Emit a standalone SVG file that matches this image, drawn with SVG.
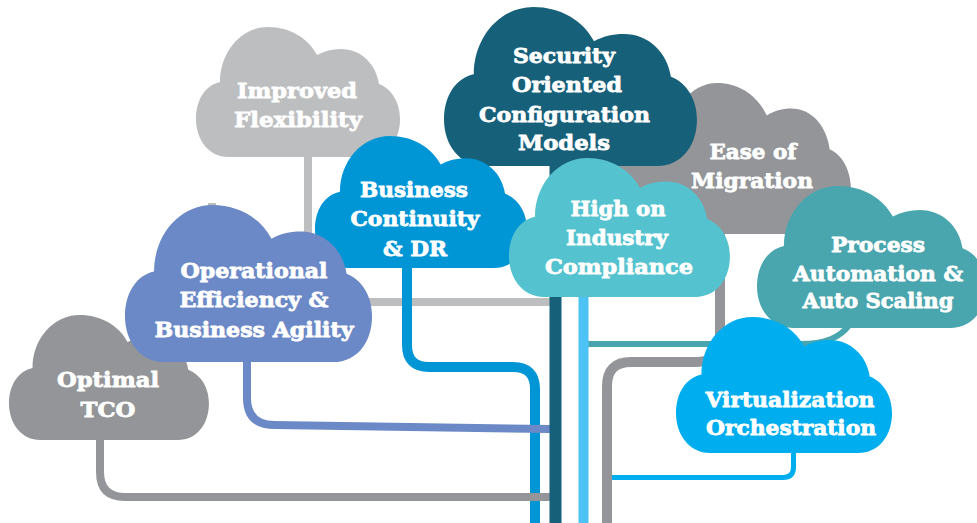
<svg xmlns="http://www.w3.org/2000/svg" width="977" height="523" viewBox="0 0 977 523">
<defs>
<path id="cloud" d="M32,130 C13,130 0,113 0,92 C0,72 10,58 24,55 C24,25 45,0 72,0 C94,0 112,11 121,28 C128,24 136,22 145,22 C165,22 180,37 183,57 C196,62 204,76 204,92 C204,113 192,130 172,130 Z"/>
<style>
.t { font-family: "DejaVu Serif", "Liberation Serif", serif; font-weight: bold; font-size: 21px; fill: #ffffff; stroke: #ffffff; stroke-width: 0.8px; stroke-linejoin: round; text-anchor: middle; }
.c { fill: none; stroke-linecap: butt; stroke-linejoin: round; }
</style>
</defs>
<rect width="977" height="523" fill="#ffffff"/>
<g id="connectors">
<path class="c" stroke="#bcbec0" stroke-width="8" d="M212,203 V240"/>
<path class="c" stroke="#bcbec0" stroke-width="8" d="M308,150 V302 H550"/>
<path class="c" stroke="#0096d6" stroke-width="10" d="M407,260 V345 Q407,367 429,367 H513 Q535,367 535,389 V523"/>
<path class="c" stroke="#6b89c6" stroke-width="8" d="M247,355 V398 Q247,425 275,425 L550,429"/>
<path class="c" stroke="#939598" stroke-width="8" d="M100,435 V472 Q100,497 125,497 H550"/>
<path class="c" stroke="#49a5ae" stroke-width="6" d="M584,344 H800 C825,344 840,338 850,324"/>
<path class="c" stroke="#00aeef" stroke-width="5" d="M607,477.5 H783 Q793.5,477.5 793.5,467 V448"/>
<path class="c" stroke="#939598" stroke-width="10" d="M720,230 V338 Q720,362 696,362 H631 Q607,362 607,386 V523"/>
<path class="c" stroke="#4cc2f5" stroke-width="10" d="M583.5,290 V523"/>
<path class="c" stroke="#17607a" stroke-width="12" d="M555.5,160 V523"/>
</g>
<g id="improved-flexibility">
<use href="#cloud" fill="#bcbec0" transform="translate(196,27)"/>
<text class="t" x="297" y="98" textLength="120" lengthAdjust="spacingAndGlyphs">Improved</text>
<text class="t" x="298" y="127" textLength="128" lengthAdjust="spacingAndGlyphs">Flexibility</text>
</g>
<g id="ease-of-migration">
<path fill="#939598" d="M676,234 C630,234 605,215 605,188 C605,160 630,145 668.4,146.9 C668.4,112 689.7,83 717.1,83 C739.4,83 757.7,95.8 766.8,115.5 C773.9,110.9 782,108.6 791.2,108.6 C811.5,108.6 826.7,126 829.7,149.2 C842.9,155 851,171.3 851,190 C851,214.3 838.9,234 818.6,234 Z"/>
<text class="t" x="753" y="159" textLength="87" lengthAdjust="spacingAndGlyphs">Ease of</text>
<text class="t" x="752" y="188" textLength="122" lengthAdjust="spacingAndGlyphs">Migration</text>
</g>
<g id="security-oriented-configuration-models">
<use href="#cloud" fill="#17607a" transform="translate(444,7) scale(1.240,1.223)"/>
<text class="t" x="564" y="63" textLength="102" lengthAdjust="spacingAndGlyphs">Security</text>
<text class="t" x="567" y="92" textLength="110" lengthAdjust="spacingAndGlyphs">Oriented</text>
<text class="t" x="564.5" y="122" textLength="171" lengthAdjust="spacingAndGlyphs">Configuration</text>
<text class="t" x="564" y="150" textLength="92" lengthAdjust="spacingAndGlyphs">Models</text>
</g>
<g id="business-continuity-dr">
<use href="#cloud" fill="#0096d6" transform="translate(315,136) scale(1.039,1.015)"/>
<text class="t" x="414" y="197" textLength="108" lengthAdjust="spacingAndGlyphs">Business</text>
<text class="t" x="415" y="226" textLength="129" lengthAdjust="spacingAndGlyphs">Continuity</text>
<text class="t" x="415" y="256" textLength="64" lengthAdjust="spacingAndGlyphs">&amp; DR</text>
</g>
<g id="optimal-tco">
<use href="#cloud" fill="#939598" transform="translate(9,315) scale(0.980,0.962)"/>
<text class="t" x="108" y="387" textLength="102" lengthAdjust="spacingAndGlyphs">Optimal</text>
<text class="t" x="108" y="417" textLength="55" lengthAdjust="spacingAndGlyphs">TCO</text>
</g>
<g id="operational-efficiency-business-agility">
<use href="#cloud" fill="#6b89c6" transform="translate(125,205) scale(1.211,1.208)"/>
<text class="t" x="254" y="278" textLength="147" lengthAdjust="spacingAndGlyphs">Operational</text>
<text class="t" x="254" y="307" textLength="149" lengthAdjust="spacingAndGlyphs">Efficiency &amp;</text>
<text class="t" x="254" y="337" textLength="199" lengthAdjust="spacingAndGlyphs">Business Agility</text>
</g>
<g id="high-on-industry-compliance">
<use href="#cloud" fill="#55c3cf" transform="translate(509,158) scale(1.083,1.069)"/>
<text class="t" x="618" y="216" textLength="95" lengthAdjust="spacingAndGlyphs">High on</text>
<text class="t" x="617" y="245" textLength="102" lengthAdjust="spacingAndGlyphs">Industry</text>
<text class="t" x="619" y="274" textLength="148" lengthAdjust="spacingAndGlyphs">Compliance</text>
</g>
<g id="process-automation-auto-scaling">
<use href="#cloud" fill="#49a5ae" transform="translate(757,186) scale(1.123,1.092)"/>
<text class="t" x="878" y="252" textLength="94" lengthAdjust="spacingAndGlyphs">Process</text>
<text class="t" x="878" y="281" textLength="170" lengthAdjust="spacingAndGlyphs">Automation &amp;</text>
<text class="t" x="878" y="308" textLength="151" lengthAdjust="spacingAndGlyphs">Auto Scaling</text>
</g>
<g id="virtualization-orchestration">
<use href="#cloud" fill="#00aeef" transform="translate(676,317) scale(1.059,1.046)"/>
<text class="t" x="790" y="407" textLength="169" lengthAdjust="spacingAndGlyphs">Virtualization</text>
<text class="t" x="791" y="435" textLength="170" lengthAdjust="spacingAndGlyphs">Orchestration</text>
</g>
</svg>
